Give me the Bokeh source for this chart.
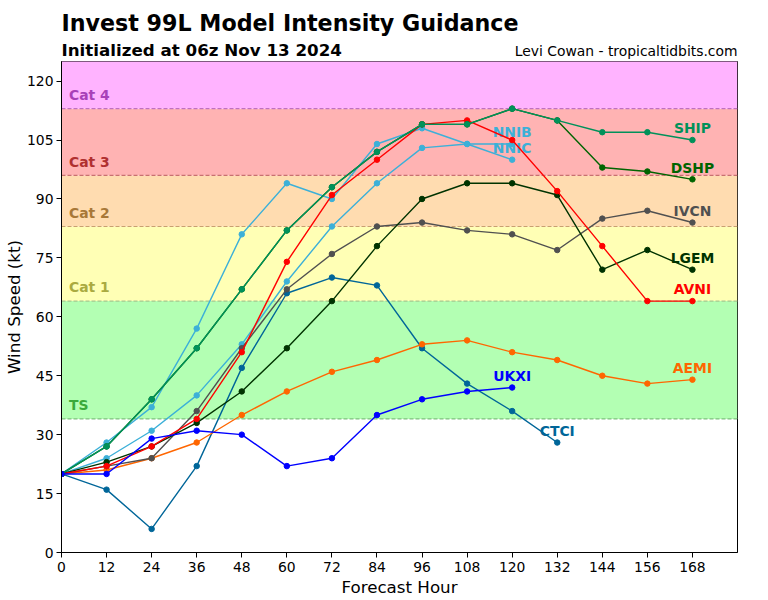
from bokeh.plotting import figure
from bokeh.layouts import column
from bokeh.models import ColumnDataSource, Range1d, FixedTicker, BoxAnnotation, Span, Label
from bokeh.embed import file_html
from bokeh.resources import INLINE
from bokeh.core.properties import value

FONT = "DejaVu Sans"

# Forecast hours and intensity forecasts (kt) per model
hours = [0, 12, 24, 36, 48, 60, 72, 84, 96, 108, 120, 132, 144, 156, 168]

ship = [20, 27, 39, 52, 67, 82, 93, 102, 109, 109, 113, 110, 107, 107, 105]
dshp = [20, 27, 39, 52, 67, 82, 93, 102, 109, 109, 113, 110, 98, 97, 95]
avni = [20, 22, 27, 34, 51, 74, 91, 100, 109, 110, 105, 92, 78, 64, 64]
ivcn = [20, 22, 24, 36, 52, 67, 76, 83, 84, 82, 81, 77, 85, 87, 84]
lgem = [20, 23, 27, 33, 41, 52, 64, 78, 90, 94, 94, 91, 72, 77, 72]
aemi = [20, 21, 24, 28, 35, 41, 46, 49, 53, 54, 51, 49, 45, 43, 44]
ukxi = [20, 20, 29, 31, 30, 22, 24, 35, 39, 41, 42]
ctci = [20, 16, 6, 22, 47, 66, 70, 68, 52, 43, 36, 28]
nnib = [20, 24, 31, 40, 53, 69, 83, 94, 103, 104, 104]
nnic = [20, 28, 37, 57, 81, 94, 90, 104, 108, 104, 100]

model_names = ["NNIB", "NNIC", "CTCI", "AEMI", "IVCN", "LGEM", "AVNI", "DSHP", "SHIP", "UKXI"]
model_values = [nnib, nnic, ctci, aemi, ivcn, lgem, avni, dshp, ship, ukxi]
model_colors = ["#3cb0d8", "#3cb0d8", "#006699", "#ff6600", "#505050",
                "#003300", "#ff0000", "#006400", "#00915a", "#0000ff"]

# Saffir-Simpson category bands (kt)
band_names = ["TS", "Cat 1", "Cat 2", "Cat 3", "Cat 4"]
band_low = [34, 64, 83, 96, 113]
band_high = [64, 83, 96, 113, 140]
band_fill = ["#b3ffb3", "#ffffb5", "#ffdcb0", "#ffb3b3", "#ffb3ff"]
band_edge = ["#80c080", "#a8c890", "#c8a070", "#c87070", "#c070c0"]
band_text = ["#3aaa3a", "#aaaa40", "#a87838", "#b03030", "#a840b8"]

y_ticks = [0, 15, 30, 45, 60, 75, 90, 105, 120]

title_text = "Invest 99L Model Intensity Guidance"
subtitle_text = "Initialized at 06z Nov 13 2024"
credit_text = "Levi Cowan - tropicaltidbits.com"

# --- header strip: pixel coordinates, frame shares the chart's left/right edges ---
head = figure(width=768, frame_height=61, output_backend="svg", toolbar_location=None,
              title=None, x_range=Range1d(61, 737), y_range=Range1d(61, 0),
              x_axis_location=None, y_axis_location=None,
              min_border_left=61, min_border_right=31, min_border_top=0, min_border_bottom=0)
head.outline_line_color = None
head.xgrid.visible = False
head.ygrid.visible = False
head.text(x=[61], y=[22], text=[title_text], text_color="black",
          text_font=value(FONT), text_font_style="bold", text_font_size="22.2px",
          text_baseline="middle", text_align="left")
head.text(x=[61], y=[49.3], text=[subtitle_text], text_color="black",
          text_font=value(FONT), text_font_style="bold", text_font_size="16.7px",
          text_baseline="middle", text_align="left")
head.text(x=[737], y=[50], text=[credit_text], text_color="black",
          text_font=value(FONT), text_font_size="13.9px",
          text_baseline="middle", text_align="right")

# --- main intensity chart ---
p = figure(width=768, height=539, output_backend="svg", toolbar_location=None,
           title=None, x_range=Range1d(0, 180), y_range=Range1d(0, 125),
           min_border_left=61, min_border_right=31, min_border_top=0, min_border_bottom=48)

for lo, hi, fc, ec in zip(band_low, band_high, band_fill, band_edge):
    p.add_layout(BoxAnnotation(bottom=lo, top=hi, fill_color=fc, fill_alpha=1.0,
                               line_alpha=0, level="underlay"))
    p.add_layout(Span(location=lo, dimension="width", line_color=ec, line_width=1.2,
                      line_dash="4 2", level="underlay"))

for name, lo, tc in zip(band_names, band_low, band_text):
    p.add_layout(Label(x=2, y=lo + 3.5, text=name, text_color=tc, text_font=FONT,
                       text_font_style="bold", text_font_size="13.9px", text_baseline="middle"))

for name, vals, col in zip(model_names, model_values, model_colors):
    src = ColumnDataSource(dict(x=hours[:len(vals)], y=vals))
    p.line("x", "y", source=src, line_color=col, line_width=1.4)
    p.scatter("x", "y", source=src, size=5.5, fill_color=col, line_color=col)
    last_x = hours[len(vals) - 1]
    p.text(x=[last_x], y=[vals[-1] + 3], text=[name], text_color=col,
           text_font=value(FONT), text_font_style="bold", text_font_size="13.9px",
           text_align="center", text_baseline="middle")

p.xgrid.visible = False
p.ygrid.visible = False
p.outline_line_color = "black"
p.outline_line_width = 1
p.outline_line_alpha = 1

p.xaxis.ticker = FixedTicker(ticks=hours)
p.yaxis.ticker = FixedTicker(ticks=y_ticks)
for ax in (p.xaxis[0], p.yaxis[0]):
    ax.minor_tick_line_color = None
    ax.major_tick_in = 0
    ax.major_tick_out = 5
    ax.major_tick_line_color = "black"
    ax.axis_line_color = "black"
    ax.major_label_text_font = FONT
    ax.major_label_text_font_size = "13.9px"
    ax.major_label_text_color = "black"
    ax.axis_label_text_font = FONT
    ax.axis_label_text_font_size = "16.7px"
    ax.axis_label_text_font_style = "normal"
    ax.axis_label_text_color = "black"
    ax.major_label_standoff = 4
    ax.axis_label_standoff = 2
p.yaxis.major_label_standoff = 3
p.yaxis.axis_label_standoff = 0
p.xaxis.axis_label = "Forecast Hour"
p.yaxis.axis_label = "Wind Speed (kt)"

layout = column(head, p, spacing=0)
open("out.html", "w").write(file_html(layout, INLINE))
